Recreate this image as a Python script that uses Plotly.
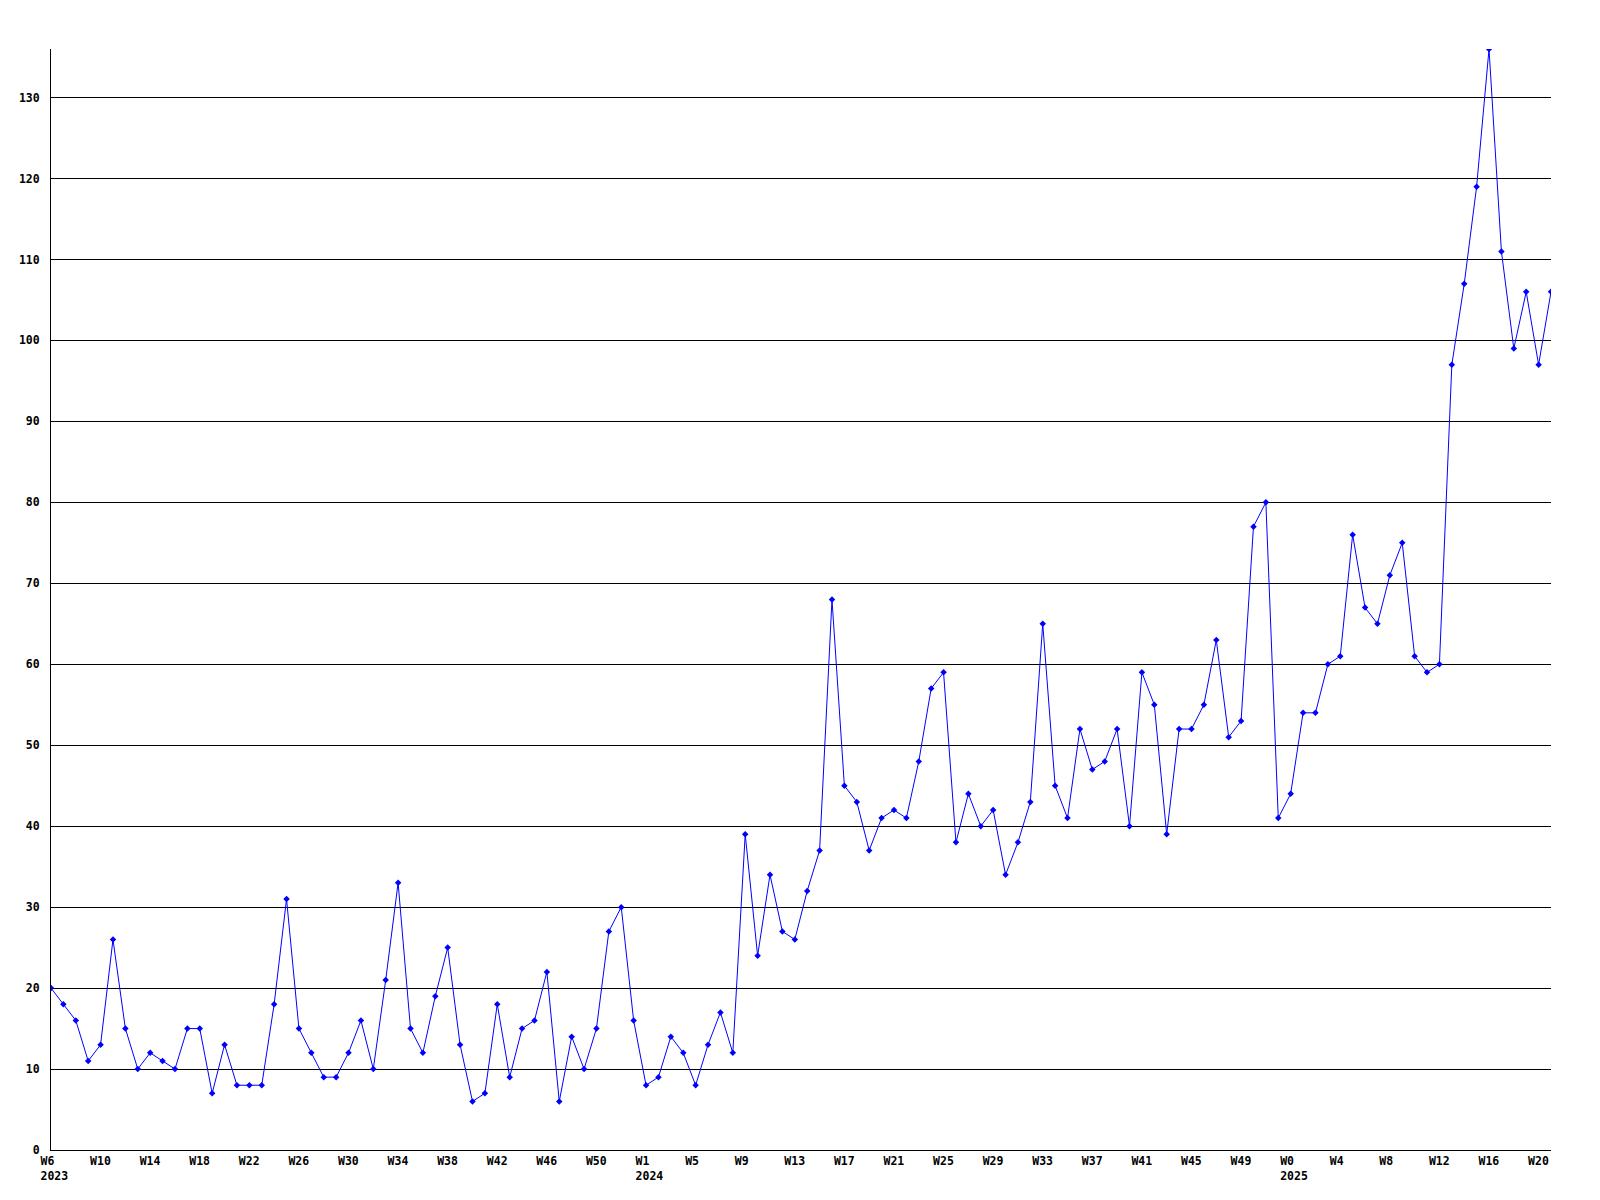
import plotly.graph_objects as go

# Weekly counts, 2023 W6 through 2025 W21 (one value per week)
values = [
    20, 18, 16, 11, 13, 26, 15, 10, 12, 11,
    10, 15, 15, 7, 13, 8, 8, 8, 18, 31,
    15, 12, 9, 9, 12, 16, 10, 21, 33, 15,
    12, 19, 25, 13, 6, 7, 18, 9, 15, 16,
    22, 6, 14, 10, 15, 27, 30, 16, 8, 9,
    14, 12, 8, 13, 17, 12, 39, 24, 34, 27,
    26, 32, 37, 68, 45, 43, 37, 41, 42, 41,
    48, 57, 59, 38, 44, 40, 42, 34, 38, 43,
    65, 45, 41, 52, 47, 48, 52, 40, 59, 55,
    39, 52, 52, 55, 63, 51, 53, 77, 80, 41,
    44, 54, 54, 60, 61, 76, 67, 65, 71, 75,
    61, 59, 60, 97, 107, 119, 136, 111, 99, 106,
    97, 106,
]
week_index = list(range(len(values)))

# x tick labels (every 4th week)
x_tick_pos = [0, 4, 8, 12, 16, 20, 24, 28, 32, 36, 40, 44, 48, 52, 56, 60,
              64, 68, 72, 76, 80, 84, 88, 92, 96, 100, 104, 108, 112, 116, 120]
x_tick_text = ["W6<br>2023", "W10", "W14", "W18", "W22", "W26", "W30", "W34",
               "W38", "W42", "W46", "W50", "W1<br>2024", "W5", "W9", "W13",
               "W17", "W21", "W25", "W29", "W33", "W37", "W41", "W45", "W49",
               "W0<br>2025", "W4", "W8", "W12", "W16", "W20"]

y_tick_vals = [0, 10, 20, 30, 40, 50, 60, 70, 80, 90, 100, 110, 120, 130]
y_tick_text = [str(v).rjust(3, "\u00a0") for v in y_tick_vals]

fig = go.Figure()
fig.add_trace(go.Scatter(
    x=week_index, y=values, mode="lines+markers",
    line=dict(color="#0000ff", width=1),
    marker=dict(symbol="diamond", size=5, color="#0000ff"),
    showlegend=False,
))

font = dict(family="DejaVu Sans Mono", size=11.5, color="black", weight="bold")

fig.update_layout(
    width=1600, height=1200,
    margin=dict(l=43, r=57, t=41, b=58),
    paper_bgcolor="white", plot_bgcolor="white",
    font=font,
    xaxis=dict(
        range=[0, 121], tickmode="array", tickvals=x_tick_pos, ticktext=x_tick_text,
        showgrid=False, zeroline=False, showline=True, linecolor="black", linewidth=1,
        ticks="", tickfont=font, ticklabelposition="outside right",
        ticklabelshift=-11, ticklabelstandoff=0,
    ),
    yaxis=dict(
        range=[0, 136], tickmode="array", tickvals=y_tick_vals, ticktext=y_tick_text,
        showgrid=True, gridcolor="black", gridwidth=1, zeroline=False,
        showline=True, linecolor="black", linewidth=1, ticks="", tickfont=font,
        ticklabelstandoff=8,
    ),
)

fig.write_html("out.html")
